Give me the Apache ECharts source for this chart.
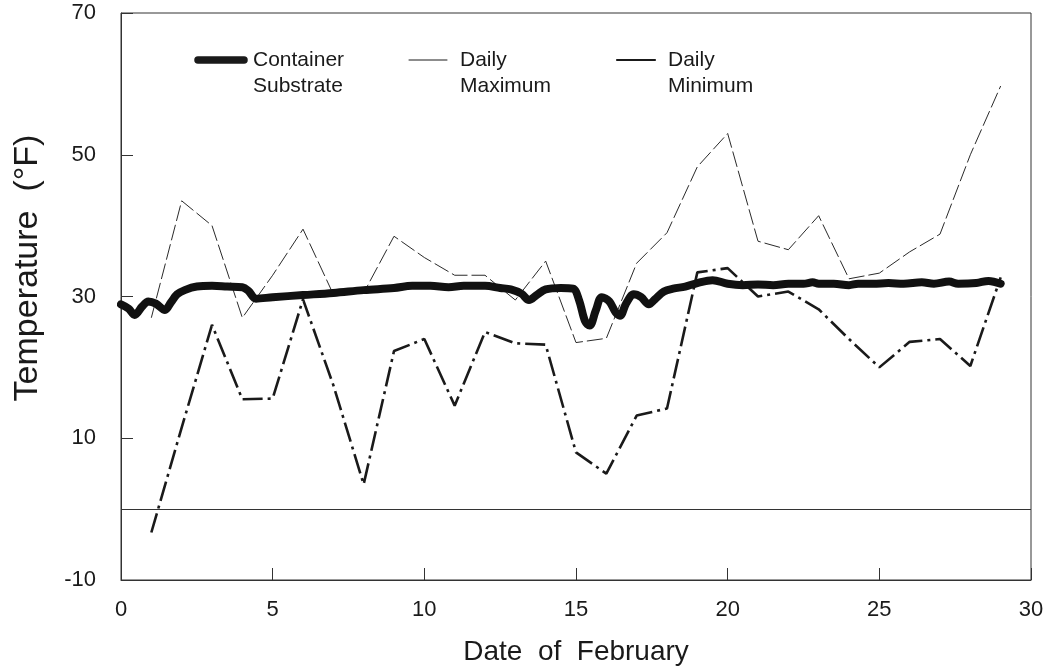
<!DOCTYPE html>
<html>
<head>
<meta charset="utf-8">
<title>Temperature, February</title>
<script src="https://cdn.jsdelivr.net/npm/echarts@6/dist/echarts.min.js"></script>
<style>
  html, body { margin: 0; padding: 0; background: #fff; }
  #chart { width: 1048px; height: 671px; }
</style>
</head>
<body>
<div id="chart"></div>
<script>
// Daily readings, one per date (Feb 1 .. Feb 29)
const days = [1, 2, 3, 4, 5, 6, 7, 8, 9, 10, 11, 12, 13, 14, 15, 16, 17, 18, 19, 20, 21, 22, 23, 24, 25, 26, 27, 28, 29];
const dailyMax = [27, 43.5, 40, 27, 33, 39.5, 30.3, 30.5, 38.5, 35.5, 33, 33, 29.5, 35, 23.5, 24.1, 34.7, 39, 48.3, 53, 37.8, 36.6, 41.4, 32.5, 33.3, 36.3, 38.8, 50, 59.7];
const dailyMin = [-3.3, 11.5, 26, 15.5, 15.6, 29.6, 17.5, 3.5, 22.3, 24, 14.6, 25, 23.4, 23.2, 8, 5, 13.2, 14.2, 33.4, 34, 30, 30.7, 28.2, 24, 20, 23.6, 24, 20.2, 32.7];

// Container substrate logger, sampled through the day
const containerDays = [0, 0.25, 0.45, 0.7, 0.9, 1.15, 1.45, 1.65, 1.85, 2.1, 2.5, 3.0, 3.5, 4.0, 4.2, 4.45, 5, 6, 7, 8, 9, 9.6, 10.2, 10.8, 11.3, 12, 12.5, 12.85, 13.2, 13.45, 13.7, 14, 14.5, 14.9, 15.1, 15.3, 15.45, 15.65, 15.85, 16.1, 16.3, 16.45, 16.65, 16.9, 17.15, 17.4, 17.6, 17.9, 18.2, 18.6, 19, 19.5, 20, 20.5, 21, 21.5, 22, 22.5, 22.8, 23, 23.5, 24, 24.3, 24.8, 25.3, 25.8, 26.4, 26.8, 27.3, 27.6, 28.2, 28.6, 29];
const containerTemps = [28.9, 28.3, 27.4, 28.6, 29.3, 29.0, 28.1, 29.2, 30.3, 30.9, 31.4, 31.5, 31.4, 31.3, 30.8, 29.7, 29.9, 30.2, 30.5, 30.9, 31.2, 31.5, 31.5, 31.3, 31.5, 31.5, 31.2, 31.0, 30.4, 29.5, 30.2, 31.0, 31.2, 31.1, 29.5, 26.5, 25.9, 28.0, 29.9, 29.3, 27.8, 27.3, 29.0, 30.3, 29.9, 28.9, 29.6, 30.7, 31.1, 31.4, 31.9, 32.3, 31.8, 31.6, 31.7, 31.6, 31.8, 31.8, 32.0, 31.8, 31.8, 31.6, 31.8, 31.8, 31.9, 31.8, 32.0, 31.8, 32.1, 31.8, 31.9, 32.2, 31.8];

// Axis ticks
const xTicks = [0, 5, 10, 15, 20, 25, 30];
const yTicks = [-10, 10, 30, 50, 70];

// Legend entries
const legendNames = ['Container\nSubstrate', 'Daily\nMaximum', 'Daily\nMinimum'];

const FONT = '"Liberation Sans", Arial, Helvetica, sans-serif';
const INK = '#1a1a1a';

const pair = (xs, ys) => xs.map((x, i) => [x, ys[i]]);

const chart = echarts.init(document.getElementById('chart'), null, { renderer: 'canvas' });

const legendX = [198, 409, 617];
const legendWidths = [7.5, 1, 2.2];

const legendGraphics = [];
legendNames.forEach((name, i) => {
  legendGraphics.push({
    type: 'line',
    shape: { x1: legendX[i], y1: 60, x2: legendX[i] + (i === 0 ? 46 : 38), y2: 60 },
    style: { stroke: INK, lineWidth: legendWidths[i], lineCap: 'round' }
  });
  legendGraphics.push({
    type: 'text',
    x: legendX[i] + (i === 0 ? 55 : 51),
    y: 47,
    style: {
      text: name,
      font: '21px ' + FONT,
      fill: INK,
      lineHeight: 26,
      textVerticalAlign: 'top'
    }
  });
});

// Rotated y-axis title
legendGraphics.push({
  type: 'text',
  x: 28,
  y: 268,
  rotation: Math.PI / 2,
  style: {
    text: 'Temperature  (°F)',
    font: '34px ' + FONT,
    fill: INK,
    textAlign: 'center',
    textVerticalAlign: 'middle'
  }
});

chart.setOption({
  backgroundColor: '#fff',
  animation: false,
  grid: {
    left: 121, right: 17, top: 13, bottom: 90,
    show: true, borderColor: '#333', borderWidth: 1
  },
  xAxis: {
    type: 'value',
    min: xTicks[0], max: xTicks[xTicks.length - 1], interval: 5,
    name: 'Date  of  February',
    nameLocation: 'middle',
    nameGap: 58,
    nameTextStyle: { fontFamily: FONT, fontSize: 28, color: INK },
    axisLine: { onZero: false, lineStyle: { color: '#333', width: 1 } },
    axisTick: { inside: true, length: 12, lineStyle: { color: '#333' } },
    axisLabel: { fontFamily: FONT, fontSize: 22, color: INK, margin: 19,
      formatter: v => xTicks.includes(v) ? String(v) : '' },
    splitLine: { show: false }
  },
  yAxis: {
    type: 'value',
    min: yTicks[0], max: yTicks[yTicks.length - 1], interval: 20,
    axisLine: { show: true, onZero: false, lineStyle: { color: '#333', width: 1 } },
    axisTick: { show: true, inside: true, length: 12, lineStyle: { color: '#333' } },
    axisLabel: { fontFamily: FONT, fontSize: 22, color: INK, margin: 25,
      formatter: v => yTicks.includes(v) ? String(v) : '' },
    splitLine: { show: false }
  },
  graphic: legendGraphics,
  series: [
    {
      name: 'Daily Maximum',
      type: 'line',
      data: pair(days, dailyMax),
      showSymbol: false,
      lineStyle: { color: '#2a2a2a', width: 1, type: [16, 4] },
      z: 2,
      markLine: {
        silent: true,
        symbol: 'none',
        label: { show: false },
        lineStyle: { color: '#333', width: 1, type: 'solid' },
        data: [{ yAxis: 0 }]
      }
    },
    {
      name: 'Daily Minimum',
      type: 'line',
      data: pair(days, dailyMin),
      showSymbol: false,
      lineStyle: { color: INK, width: 2.6, type: [20, 5, 3, 5] },
      z: 3
    },
    {
      name: 'Container Substrate',
      type: 'line',
      data: pair(containerDays, containerTemps),
      showSymbol: false,
      smooth: 0.35,
      lineStyle: { color: '#111', width: 8, cap: 'round', join: 'round' },
      z: 4
    }
  ]
});
</script>
</body>
</html>
